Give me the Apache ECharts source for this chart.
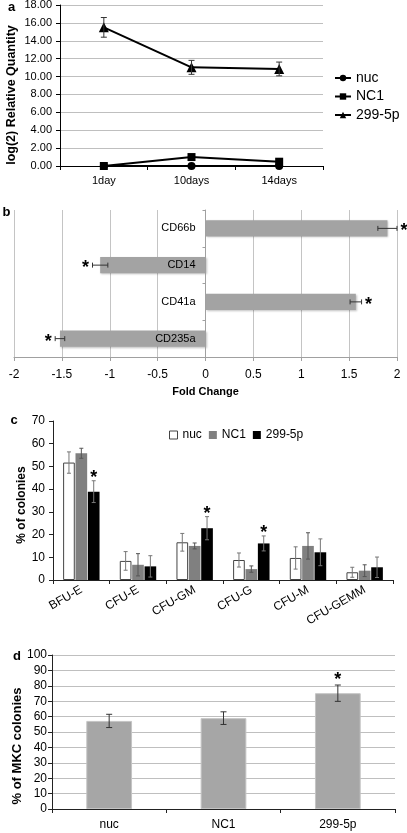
<!DOCTYPE html>
<html><head><meta charset="utf-8">
<script src="https://cdn.jsdelivr.net/npm/echarts@6/dist/echarts.min.js"></script>
<style>html,body{margin:0;padding:0;background:#fff}#c{width:407px;height:833px}</style>
</head><body><div id="c"></div>
<script>
// ---------- Panel a ----------
const daysA = ['1day', '10days', '14days'];
const nucA = [0, 0, 0];
const nc1A = [0, 1.0, 0.48];
const mirA = [15.5, 11.03, 10.85];
const mirAErr = [1.1, 0.78, 0.77];

// ---------- Panel b ----------
const markersB = ['CD66b', 'CD14', 'CD41a', 'CD235a'];
const foldB = [1.9, -1.1, 1.57, -1.52];
const foldBErr = [0.1, 0.08, 0.06, 0.05];
const sigB = [1, 1, 1, 1];

// ---------- Panel c ----------
const colonyTypes = ['BFU-E', 'CFU-E', 'CFU-GM', 'CFU-G', 'CFU-M', 'CFU-GEMM'];
const nucC = [51.7, 8.4, 16.6, 8.8, 9.7, 3.4];
const nucCErr = [4.7, 4.1, 3.9, 3.1, 4.9, 2.2];
const nc1C = [55.8, 6.7, 15.0, 4.8, 15.0, 4.1];
const nc1CErr = [2.2, 4.9, 1.3, 1.4, 5.8, 2.6];
const mirC = [38.9, 6.0, 22.8, 16.1, 12.2, 5.6];
const mirCErr = [4.8, 4.7, 5.1, 3.3, 5.9, 4.5];
const sigC = [1, 0, 1, 1, 0, 0];

// ---------- Panel d ----------
const groupsD = ['nuc', 'NC1', '299-5p'];
const mkcD = [57.2, 59.0, 75.2];
const mkcDErr = [4.3, 4.1, 5.3];
const sigD = [0, 0, 1];

const FF = '"Liberation Sans", Arial, Helvetica, sans-serif';

function vErr(xi, yi, means, errs, sig, o) {
  return {
    type: 'custom', xAxisIndex: xi, yAxisIndex: yi, z: 6, silent: true,
    data: means.map((m, i) => [i, m, errs[i], sig ? sig[i] : 0]),
    renderItem(params, api) {
      const i = api.value(0), m = api.value(1), e = api.value(2), s = api.value(3);
      const band = api.size([1, 0])[0];
      const dx = o.k * band * o.bw * (1 + o.gap);
      const top = api.coord([i, m + e]);
      const bot = api.coord([i, m - e]);
      const x = top[0] + dx;
      const c = o.cap;
      const st = { stroke: o.color, lineWidth: 1 };
      const ch = [];
      if (e > 0) {
        ch.push({ type: 'line', shape: { x1: x, y1: top[1], x2: x, y2: bot[1] }, style: st });
        ch.push({ type: 'line', shape: { x1: x - c, y1: top[1], x2: x + c, y2: top[1] }, style: st });
        ch.push({ type: 'line', shape: { x1: x - c, y1: bot[1], x2: x + c, y2: bot[1] }, style: st });
      }
      if (s) {
        ch.push({ type: 'text', x: x, y: top[1] - o.star + 3,
          style: { text: '*', fill: '#000', fontSize: 18, fontWeight: 'bold', fontFamily: FF, align: 'center', verticalAlign: 'middle' } });
      }
      return { type: 'group', children: ch };
    }
  };
}

function hErr(xi, yi, means, errs, sig, o) {
  return {
    type: 'custom', xAxisIndex: xi, yAxisIndex: yi, z: 6, silent: true,
    data: means.map((m, i) => [m, i, errs[i], sig ? sig[i] : 0]),
    renderItem(params, api) {
      const m = api.value(0), i = api.value(1), e = api.value(2), s = api.value(3);
      const a = api.coord([m - e, i]);
      const b = api.coord([m + e, i]);
      const y = a[1];
      const c = o.cap;
      const st = { stroke: o.color, lineWidth: 1 };
      const ch = [
        { type: 'line', shape: { x1: a[0], y1: y, x2: b[0], y2: y }, style: st },
        { type: 'line', shape: { x1: a[0], y1: y - c, x2: a[0], y2: y + c }, style: st },
        { type: 'line', shape: { x1: b[0], y1: y - c, x2: b[0], y2: y + c }, style: st }
      ];
      if (s) {
        const sx = m >= 0 ? b[0] + o.star : a[0] - o.star;
        ch.push({ type: 'text', x: sx, y: y + 3,
          style: { text: '*', fill: '#000', fontSize: 18, fontWeight: 'bold', fontFamily: FF, align: 'center', verticalAlign: 'middle' } });
      }
      return { type: 'group', children: ch };
    }
  };
}

const black = '#000';
const lbl = (fs, margin, extra) => Object.assign({ color: '#000', fontSize: fs, margin: margin, fontFamily: FF }, extra || {});

// panel b grid geometry: category axis sits at the zero of the value axis
const gridB = { left: 14, right: 10 };
const widthB = 407 - gridB.left - gridB.right;
const zeroOffsetB = -widthB * (0 - (-2)) / (2 - (-2));

const option = {
  animation: false,
  backgroundColor: '#fff',
  textStyle: { fontFamily: FF },
  grid: [
    { left: 60, right: 84, top: 5, bottom: 667, outerBoundsMode: 'none' },
    { left: gridB.left, right: gridB.right, top: 210, bottom: 476, outerBoundsMode: 'none' },
    { left: 53, right: 14, top: 421, bottom: 253, outerBoundsMode: 'none' },
    { left: 52, right: 12, top: 655, bottom: 24, outerBoundsMode: 'none' }
  ],
  legend: [
    {
      data: ['nuc', 'NC1', '299-5p'], orient: 'vertical', left: 334, top: 71,
      itemWidth: 16, itemHeight: 8, itemGap: 4.5, padding: 0,
      textStyle: { fontSize: 14, color: '#000', fontFamily: FF }
    },
    {
      data: [
        { name: 'c:nuc', itemStyle: { color: '#fff', borderColor: '#444', borderWidth: 1 } },
        { name: 'c:NC1' },
        { name: 'c:299-5p' }
      ],
      orient: 'horizontal', left: 169, top: 429,
      icon: 'rect', itemWidth: 8, itemHeight: 8, itemGap: 7, padding: 0,
      formatter: n => n.slice(2),
      textStyle: { fontSize: 12, color: '#000', fontFamily: FF }
    }
  ],
  xAxis: [
    {
      gridIndex: 0, type: 'category', data: daysA,
      axisLine: { show: true, lineStyle: { color: black } },
      axisTick: { show: true, length: 4, lineStyle: { color: black } },
      axisLabel: lbl(11, 9)
    },
    {
      gridIndex: 1, type: 'value', min: -2, max: 2, interval: 0.5,
      axisLine: { show: true, onZero: false, lineStyle: { color: '#a0a0a0' } },
      axisTick: { show: true, length: 4, lineStyle: { color: '#a0a0a0' } },
      splitLine: { show: true, lineStyle: { color: '#c4c4c4' } },
      axisLabel: lbl(12, 12),
      name: 'Fold Change', nameLocation: 'middle', nameGap: 29,
      nameTextStyle: { fontSize: 11, fontWeight: 'bold', color: '#000', fontFamily: FF }
    },
    {
      gridIndex: 2, type: 'category', data: colonyTypes,
      axisLine: { show: true, lineStyle: { color: '#222' } },
      axisTick: { show: true, length: 4, lineStyle: { color: '#222' } },
      axisLabel: lbl(12, 9, { rotate: 30, interval: 0 })
    },
    {
      gridIndex: 3, type: 'category', data: groupsD,
      axisLine: { show: true, lineStyle: { color: '#222' } },
      axisTick: { show: true, length: 4, lineStyle: { color: '#222' } },
      axisLabel: lbl(12, 10)
    }
  ],
  yAxis: [
    {
      gridIndex: 0, type: 'value', min: 0, max: 18, interval: 2,
      axisLine: { show: true, lineStyle: { color: black } },
      axisTick: { show: true, length: 4, lineStyle: { color: black } },
      splitLine: { show: true, lineStyle: { color: '#bfbfbf' } },
      axisLabel: lbl(11, 8, { formatter: v => v.toFixed(2) })
    },
    {
      gridIndex: 1, type: 'category', data: markersB, inverse: true, z: 10,
      offset: zeroOffsetB,
      axisLine: { show: true, onZero: false, lineStyle: { color: '#a0a0a0' } },
      axisTick: { show: true, length: 3, lineStyle: { color: '#a0a0a0' } },
      axisLabel: lbl(11, 10)
    },
    {
      gridIndex: 2, type: 'value', min: 0, max: 70, interval: 10,
      axisLine: { show: true, lineStyle: { color: '#222' } },
      axisTick: { show: true, length: 4, lineStyle: { color: '#222' } },
      splitLine: { show: false },
      axisLabel: lbl(12, 8)
    },
    {
      gridIndex: 3, type: 'value', min: 0, max: 100, interval: 10,
      axisLine: { show: true, lineStyle: { color: '#222' } },
      axisTick: { show: true, length: 4, lineStyle: { color: '#222' } },
      splitLine: { show: true, lineStyle: { color: '#bfbfbf' } },
      axisLabel: lbl(12, 5)
    }
  ],
  series: [
    // panel a
    { name: 'nuc', type: 'line', xAxisIndex: 0, yAxisIndex: 0, data: nucA, symbol: 'circle', symbolSize: 8,
      lineStyle: { color: black, width: 2 }, itemStyle: { color: black }, z: 4 },
    { name: 'NC1', type: 'line', xAxisIndex: 0, yAxisIndex: 0, data: nc1A, symbol: 'rect', symbolSize: 8,
      lineStyle: { color: black, width: 2 }, itemStyle: { color: black }, z: 4 },
    { name: '299-5p', type: 'line', xAxisIndex: 0, yAxisIndex: 0, data: mirA, symbol: 'triangle', symbolSize: 10,
      lineStyle: { color: black, width: 2 }, itemStyle: { color: black }, z: 4 },
    vErr(0, 0, mirA, mirAErr, null, { k: 0, bw: 0, gap: 0, cap: 3, color: '#333', star: 0 }),
    // panel b
    { type: 'bar', xAxisIndex: 1, yAxisIndex: 1, data: foldB, barWidth: '44%',
      itemStyle: { color: '#a3a3a3', shadowColor: 'rgba(0,0,0,0.25)', shadowBlur: 2, shadowOffsetX: 1, shadowOffsetY: 1 } },
    hErr(1, 1, foldB, foldBErr, sigB, { cap: 2.5, color: '#333', star: 7 }),
    // panel c
    { name: 'c:nuc', type: 'bar', xAxisIndex: 2, yAxisIndex: 2, data: nucC, barWidth: '20.6%', barGap: '6%',
      itemStyle: { color: '#fff', borderColor: '#444', borderWidth: 1 } },
    { name: 'c:NC1', type: 'bar', xAxisIndex: 2, yAxisIndex: 2, data: nc1C, barWidth: '20.6%', barGap: '6%',
      itemStyle: { color: '#808080' } },
    { name: 'c:299-5p', type: 'bar', xAxisIndex: 2, yAxisIndex: 2, data: mirC, barWidth: '20.6%', barGap: '6%',
      itemStyle: { color: '#000' } },
    vErr(2, 2, nucC, nucCErr, null, { k: -1, bw: 0.206, gap: 0.06, cap: 2, color: '#777', star: 6 }),
    vErr(2, 2, nc1C, nc1CErr, null, { k: 0, bw: 0.206, gap: 0.06, cap: 2, color: '#555', star: 6 }),
    vErr(2, 2, mirC, mirCErr, sigC, { k: 1, bw: 0.206, gap: 0.06, cap: 2, color: '#777', star: 6 }),
    // panel d
    { type: 'bar', xAxisIndex: 3, yAxisIndex: 3, data: mkcD, barWidth: '40%',
      itemStyle: { color: '#a6a6a6', borderColor: '#c4c4c4', borderWidth: 1 } },
    vErr(3, 3, mkcD, mkcDErr, sigD, { k: 0, bw: 0.4, gap: 0, cap: 3, color: '#333', star: 8 })
  ],
  graphic: [
    { type: 'text', x: 11.5, y: 7, style: { text: 'a', fontSize: 13, fontWeight: 'bold', fontFamily: FF, fill: '#000', align: 'center', verticalAlign: 'middle' } },
    { type: 'text', x: 6.5, y: 212, style: { text: 'b', fontSize: 13, fontWeight: 'bold', fontFamily: FF, fill: '#000', align: 'center', verticalAlign: 'middle' } },
    { type: 'text', x: 14, y: 420, style: { text: 'c', fontSize: 13, fontWeight: 'bold', fontFamily: FF, fill: '#000', align: 'center', verticalAlign: 'middle' } },
    { type: 'text', x: 17, y: 656, style: { text: 'd', fontSize: 13, fontWeight: 'bold', fontFamily: FF, fill: '#000', align: 'center', verticalAlign: 'middle' } },
    { type: 'text', x: 12, y: 95, rotation: Math.PI / 2, style: { text: 'log(2) Relative Quantity', fontSize: 12.5, fontWeight: 'bold', fontFamily: FF, fill: '#000', align: 'center', verticalAlign: 'middle' } },
    { type: 'text', x: 22, y: 505, rotation: Math.PI / 2, style: { text: '% of colonies', fontSize: 12, fontWeight: 'bold', fontFamily: FF, fill: '#000', align: 'center', verticalAlign: 'middle' } },
    { type: 'text', x: 17, y: 746, rotation: Math.PI / 2, style: { text: '% of MKC colonies', fontSize: 13, fontWeight: 'bold', fontFamily: FF, fill: '#000', align: 'center', verticalAlign: 'middle' } }
  ]
};

const chart = echarts.init(document.getElementById('c'), null, { renderer: 'canvas' });
chart.setOption(option);
</script>
</body></html>
